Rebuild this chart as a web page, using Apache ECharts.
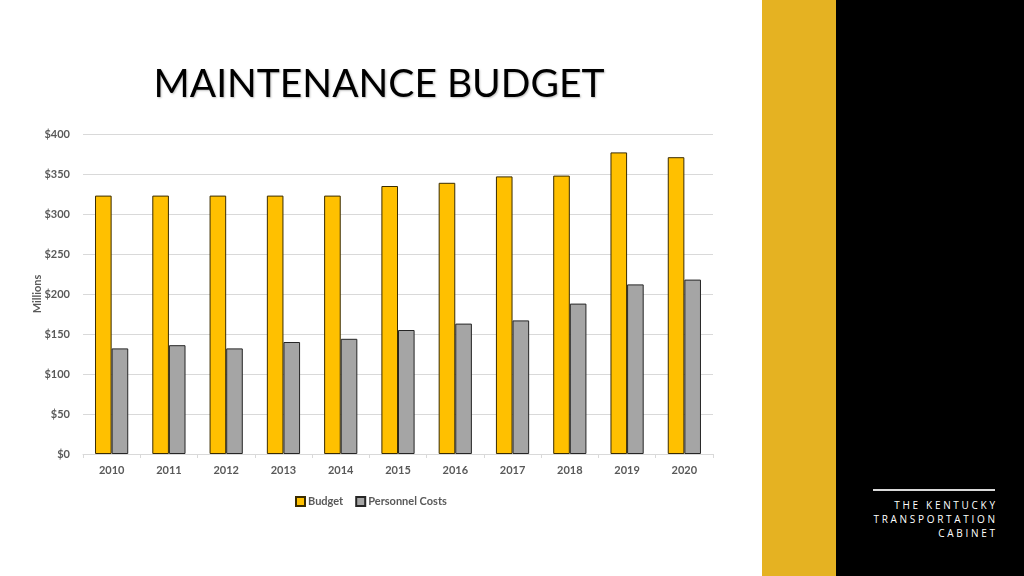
<!DOCTYPE html>
<html>
<head>
<meta charset="utf-8">
<script src="https://cdn.jsdelivr.net/npm/echarts@6/dist/echarts.min.js"></script>
<style>
html,body{margin:0;padding:0;background:#fff;}
#wrap{position:relative;width:1024px;height:576px;overflow:hidden;}
#chart{position:absolute;left:0;top:0;width:1024px;height:576px;}
#gold{position:absolute;left:762px;top:0;width:74px;height:576px;background:#E5B222;}
#black{position:absolute;left:836px;top:0;width:188px;height:576px;background:#000;}
#rule{position:absolute;left:873px;top:489px;width:122px;height:2px;background:#d9d9d9;}
.org{position:absolute;right:29px;color:#fff;font-family:"Open Sans",sans-serif;font-size:10px;letter-spacing:2.7px;text-align:right;white-space:nowrap;margin-right:-2.7px;}
</style>
</head>
<body>
<div id="wrap">
<div id="chart"></div>
<div id="gold"></div>
<div id="black"></div>
<div id="rule"></div>
<div class="org" style="top:498px">THE KENTUCKY</div>
<div class="org" style="top:512px">TRANSPORTATION</div>
<div class="org" style="top:526px">CABINET</div>
</div>
<script>
var years = ['2010','2011','2012','2013','2014','2015','2016','2017','2018','2019','2020'];
var budget = [323, 323, 323, 323, 323, 335, 339, 347, 348, 377, 371];
var personnel = [132, 136, 132, 140, 144, 155, 163, 167, 188, 212, 218];
var yTicks = [0, 50, 100, 150, 200, 250, 300, 350, 400];

var chart = echarts.init(document.getElementById('chart'));
var font = 'Lato, "Open Sans", sans-serif';
chart.setOption({
  animation: false,
  title: {
    text: 'MAINTENANCE BUDGET',
    left: 374, top: 60, textAlign: 'center',
    textStyle: {fontFamily: font, fontSize: 39, fontWeight: 'normal', color: '#000',
      textShadowColor: 'rgba(0,0,0,0.25)', textShadowBlur: 2, textShadowOffsetX: 1, textShadowOffsetY: 1}
  },
  legend: {
    data: ['Budget', 'Personnel Costs'],
    left: 290, top: 491,
    itemWidth: 9, itemHeight: 9, itemGap: 12, icon: 'rect',
    textStyle: {fontFamily: font, fontSize: 11, color: '#595959', fontWeight: 'bold', padding: [0,0,0,-2]}
  },
  grid: {left: 83, right: 311, top: 134, bottom: 122, containLabel: false},
  xAxis: {
    type: 'category', data: years,
    axisLine: {lineStyle: {color: '#d9d9d9'}},
    axisTick: {show: true, length: 4, lineStyle: {color: '#d9d9d9'}},
    axisLabel: {fontFamily: font, fontSize: 11, fontWeight: 'bold', color: '#595959', margin: 11}
  },
  yAxis: {
    type: 'value', min: 0, max: 400, interval: 50,
    name: 'Millions', nameLocation: 'middle', nameGap: 40, nameRotate: 90, nameMoveOverlap: false,
    nameTextStyle: {fontFamily: font, fontSize: 11, fontWeight: 'bold', color: '#595959'},
    axisLine: {show: false}, axisTick: {show: false},
    splitLine: {lineStyle: {color: '#d9d9d9'}},
    axisLabel: {fontFamily: font, fontSize: 11, fontWeight: 'bold', color: '#595959', margin: 13,
      formatter: function(v){ return yTicks.indexOf(v) >= 0 ? '$' + v : ''; }}
  },
  series: [
    {name: 'Budget', type: 'bar', data: budget, barGap: '0%', barCategoryGap: '42%',
      itemStyle: {color: '#FFC000', borderColor: '#3a2c00', borderWidth: 1}},
    {name: 'Personnel Costs', type: 'bar', data: personnel, barGap: '0%', barCategoryGap: '42%',
      itemStyle: {color: '#A5A5A5', borderColor: '#262626', borderWidth: 1}}
  ]
});
</script>
</body>
</html>
